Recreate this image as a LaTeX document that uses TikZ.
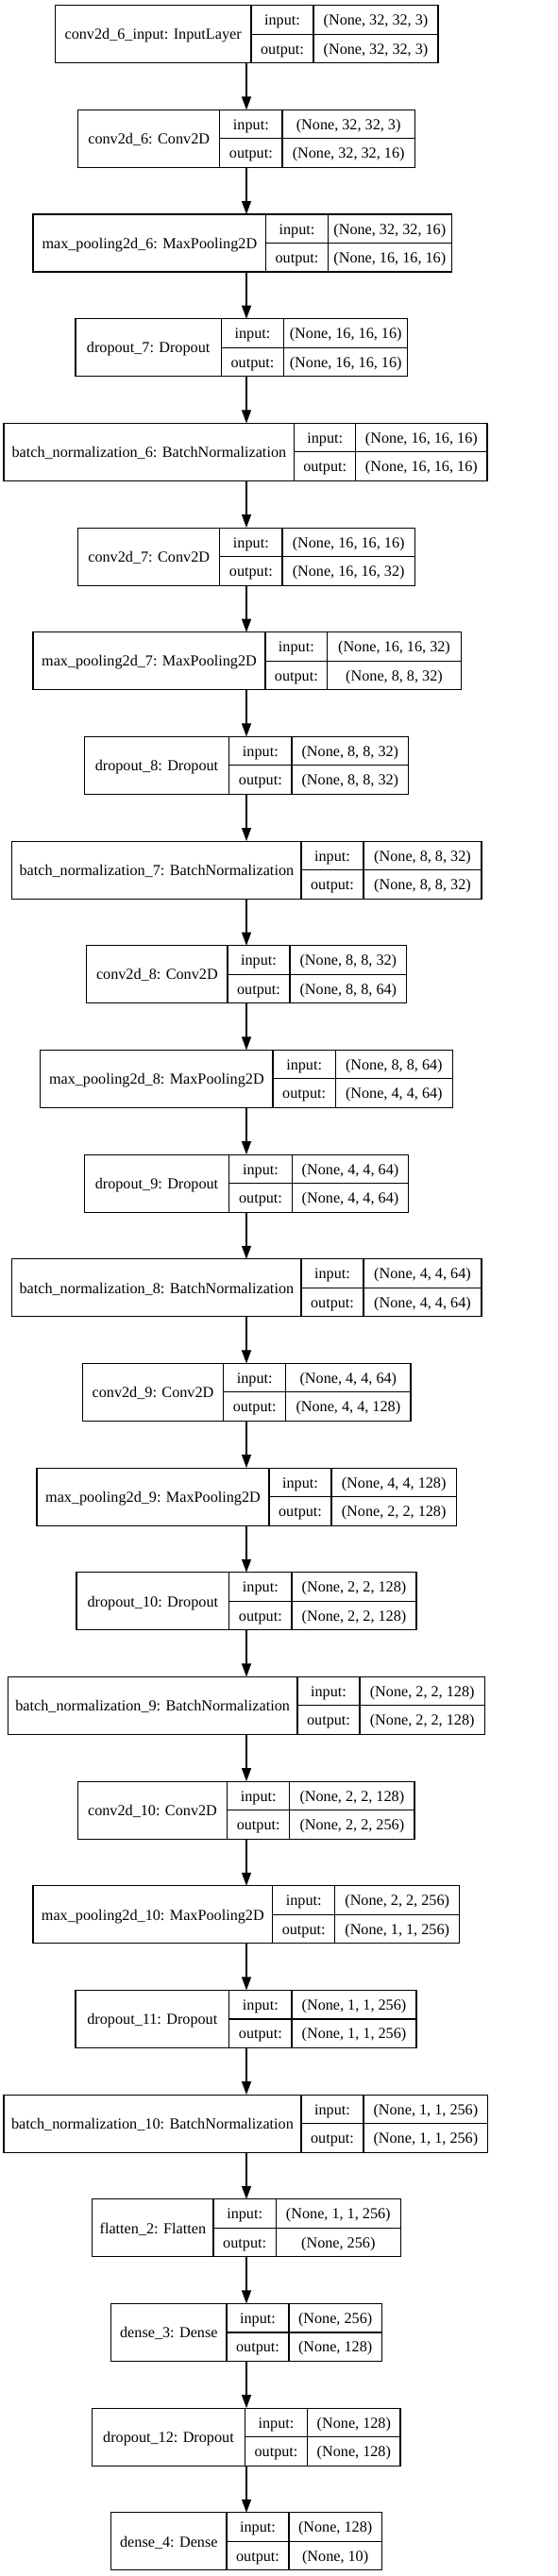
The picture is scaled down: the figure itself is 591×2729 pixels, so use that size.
\documentclass[tikz,border=0pt]{standalone}
\usepackage{fontspec}
\setmainfont{Liberation Serif}
\usetikzlibrary{positioning,arrows.meta}

\begin{document}
\begin{tikzpicture}[x=1pt, y=-1pt, font=\fontsize{16.2}{19.4}\selectfont,
        cell/.style={draw, line width=1.1pt, inner sep=0pt, outer sep=0pt, anchor=north west,
            text height=11.5pt, text depth=0pt, align=center},
        edge/.style={line width=1.1pt, -{Triangle[length=14pt, width=10pt]}}]
    \useasboundingbox[fill=white] (0,0) rectangle (591,2729);
    \coordinate (axis) at (261,0);
    % layer boxes: index / left / first divider / second divider / right / name / input / output
    \foreach \i/\xl/\xa/\xb/\xr/\nm/\shin/\shout in {
        1/58.3/266/332/464/{conv2d\_6\_input: InputLayer}/{(None, 32, 32, 3)}/{(None, 32, 32, 3)},
        2/82.7/232.7/299/439.3/{conv2d\_6: Conv2D}/{(None, 32, 32, 3)}/{(None, 32, 32, 16)},
        3/35/281.7/347.3/478.3/{max\_pooling2d\_6: MaxPooling2D}/{(None, 32, 32, 16)}/{(None, 16, 16, 16)},
        4/80/234.3/300.7/431.7/{dropout\_7: Dropout}/{(None, 16, 16, 16)}/{(None, 16, 16, 16)},
        5/4/311.7/376.7/516/{batch\_normalization\_6: BatchNormalization}/{(None, 16, 16, 16)}/{(None, 16, 16, 16)},
        6/82.7/232.7/299/439.3/{conv2d\_7: Conv2D}/{(None, 16, 16, 16)}/{(None, 16, 16, 32)},
        7/35/281/346.7/488.3/{max\_pooling2d\_7: MaxPooling2D}/{(None, 16, 16, 32)}/{(None, 8, 8, 32)},
        8/89.3/242.7/309/432.7/{dropout\_8: Dropout}/{(None, 8, 8, 32)}/{(None, 8, 8, 32)},
        9/12.7/319/385/510/{batch\_normalization\_7: BatchNormalization}/{(None, 8, 8, 32)}/{(None, 8, 8, 32)},
        10/91.7/241/307/430.7/{conv2d\_8: Conv2D}/{(None, 8, 8, 32)}/{(None, 8, 8, 64)},
        11/42.7/289/355.3/479.3/{max\_pooling2d\_8: MaxPooling2D}/{(None, 8, 8, 64)}/{(None, 4, 4, 64)},
        12/89.3/242.7/309.3/432.7/{dropout\_9: Dropout}/{(None, 4, 4, 64)}/{(None, 4, 4, 64)},
        13/12.7/319/385/510/{batch\_normalization\_8: BatchNormalization}/{(None, 4, 4, 64)}/{(None, 4, 4, 64)},
        14/87.3/236.7/302.7/435/{conv2d\_9: Conv2D}/{(None, 4, 4, 64)}/{(None, 4, 4, 128)},
        15/39/285/351/483.3/{max\_pooling2d\_9: MaxPooling2D}/{(None, 4, 4, 128)}/{(None, 2, 2, 128)},
        16/81/242.7/309/441/{dropout\_10: Dropout}/{(None, 2, 2, 128)}/{(None, 2, 2, 128)},
        17/8.3/315/381/513.3/{batch\_normalization\_9: BatchNormalization}/{(None, 2, 2, 128)}/{(None, 2, 2, 128)},
        18/82.3/240.7/306.7/439/{conv2d\_10: Conv2D}/{(None, 2, 2, 128)}/{(None, 2, 2, 256)},
        19/35/288.7/354.7/486.7/{max\_pooling2d\_10: MaxPooling2D}/{(None, 2, 2, 256)}/{(None, 1, 1, 256)},
        20/80/242.7/309/441/{dropout\_11: Dropout}/{(None, 1, 1, 256)}/{(None, 1, 1, 256)},
        21/4/319/385/516.7/{batch\_normalization\_10: BatchNormalization}/{(None, 1, 1, 256)}/{(None, 1, 1, 256)},
        22/97.7/226/292.3/424.3/{flatten\_2: Flatten}/{(None, 1, 1, 256)}/{(None, 256)},
        23/117.7/240/306/404.3/{dense\_3: Dense}/{(None, 256)}/{(None, 128)},
        24/97.7/259.3/325.7/424/{dropout\_12: Dropout}/{(None, 128)}/{(None, 128)},
        25/117.7/240/306/404.3/{dense\_4: Dense}/{(None, 128)}/{(None, 10)}} {
        \pgfmathsetmacro\yt{5.7+110.67*(\i-1)}
        \pgfmathsetmacro\wn{\xa-\xl}
        \pgfmathsetmacro\wl{\xb-\xa}
        \pgfmathsetmacro\ws{\xr-\xb}
        \node[cell, minimum width=\wn pt, minimum height=61pt] (name\i) at (\xl,\yt) {\nm};
        \node[cell, minimum width=\wl pt, minimum height=30.5pt] (in\i) at (\xa,\yt) {input:};
        \node[cell, minimum width=\wl pt, minimum height=30.5pt] (out\i) at (in\i.south west) {output:};
        \node[cell, minimum width=\ws pt, minimum height=30.5pt] (sin\i) at (in\i.north east) {\shin};
        \node[cell, minimum width=\ws pt, minimum height=30.5pt] (sout\i) at (sin\i.south west) {\shout};
    }
    % connectors along the common axis
    \foreach \i [evaluate=\i as \j using int(\i+1)] in {1,...,24}
        \draw[edge] (name\i.south -| axis) -- (name\j.north -| axis);
\end{tikzpicture}
\end{document}
